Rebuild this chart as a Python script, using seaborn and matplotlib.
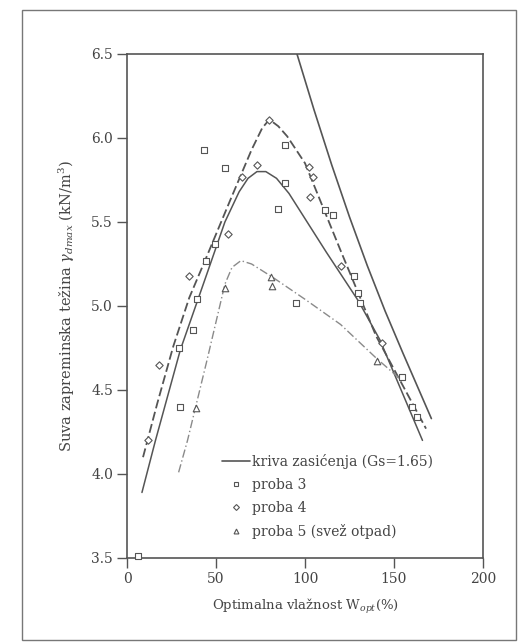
import numpy as np
import pandas as pd
import matplotlib
matplotlib.use("Agg")
import matplotlib.pyplot as plt
import seaborn as sns
from matplotlib.lines import Line2D
from matplotlib.patches import Rectangle

# ---- data ----
sat_w = [95.5, 105, 115, 125, 135, 145, 155, 171]
sat_g = [6.50, 6.17, 5.84, 5.53, 5.24, 4.97, 4.72, 4.33]

p3_fit_w = [8.4, 16, 30, 45.5, 55, 63, 68, 73, 78, 84, 91, 100, 112, 130, 142, 166]
p3_fit_g = [3.89, 4.20, 4.74, 5.21, 5.50, 5.68, 5.76, 5.80, 5.80, 5.76, 5.67, 5.52, 5.32, 5.03, 4.80, 4.20]

p4_fit_w = [9, 17, 26, 35, 45, 58, 70, 76, 80, 85, 90, 100, 120, 140, 168]
p4_fit_g = [4.10, 4.42, 4.76, 5.05, 5.30, 5.63, 5.93, 6.06, 6.11, 6.07, 6.01, 5.85, 5.33, 4.82, 4.27]

p5_fit_w = [29, 34, 45, 55, 59, 64, 70, 82, 100, 120, 140, 153]
p5_fit_g = [4.01, 4.20, 4.68, 5.13, 5.23, 5.27, 5.25, 5.17, 5.04, 4.89, 4.69, 4.57]

p3_w = [6, 30, 29, 37, 39.5, 44.5, 49.5, 43, 55, 85, 89, 89, 95, 111, 116, 127.5, 130, 131, 154.5, 160, 163]
p3_g = [3.51, 4.40, 4.75, 4.86, 5.04, 5.27, 5.37, 5.93, 5.82, 5.58, 5.96, 5.73, 5.02, 5.57, 5.54, 5.18, 5.08, 5.02, 4.58, 4.40, 4.34]

p4_w = [12, 18, 35, 57, 64.5, 73, 80, 102, 104.5, 103, 120, 143]
p4_g = [4.20, 4.65, 5.18, 5.43, 5.77, 5.84, 6.11, 5.83, 5.77, 5.65, 5.24, 4.78]

p5_w = [38.5, 55, 81, 81.5, 140.5]
p5_g = [4.39, 5.11, 5.17, 5.12, 4.67]

x_ticks = [0, 50, 100, 150, 200]
y_ticks = [3.5, 4.0, 4.5, 5.0, 5.5, 6.0, 6.5]

legend_labels = ["kriva zasićenja (Gs=1.65)", "proba 3", "proba 4", "proba 5 (svež otpad)"]

# ---- styling ----
sns.set_style("ticks")
plt.rcParams['font.family'] = ['DejaVu Serif']
plt.rcParams['mathtext.fontset'] = 'dejavuserif'

W, H = 519, 642
fig = plt.figure(figsize=(W / 100, H / 100), dpi=100)
ax = fig.add_axes([127 / W, 1 - 558 / H, (483 - 127) / W, (558 - 54) / H])

grey = "#555555"
light = "#8a8a8a"

def df(w, g):
    return pd.DataFrame({"w": w, "g": g})

sns.lineplot(data=df(sat_w, sat_g), x="w", y="g", ax=ax, color=grey, lw=1.2, sort=False)
sns.lineplot(data=df(p3_fit_w, p3_fit_g), x="w", y="g", ax=ax, color=grey, lw=1.1, sort=False)
sns.lineplot(data=df(p4_fit_w, p4_fit_g), x="w", y="g", ax=ax, color=grey, lw=1.3,
             linestyle=(0, (5, 2)), sort=False)
sns.lineplot(data=df(p5_fit_w, p5_fit_g), x="w", y="g", ax=ax, color=light, lw=1.0,
             linestyle=(0, (6, 2, 1, 2)), sort=False)

for w, g, m, s in [(p3_w, p3_g, "s", 22), (p4_w, p4_g, "D", 14), (p5_w, p5_g, "^", 22)]:
    sns.scatterplot(data=df(w, g), x="w", y="g", ax=ax, marker=m, s=s,
                    facecolor="white", edgecolor=grey, linewidth=0.8, zorder=3,
                    clip_on=False)

ax.set_xlim(0, 200)
ax.set_ylim(3.5, 6.5)
ax.set_xticks(x_ticks)
ax.set_yticks(y_ticks)
ax.set_yticklabels([f"{v:.1f}" for v in y_ticks])
ax.tick_params(axis="both", direction="out", length=7, width=1.0, colors=grey,
               labelsize=10, labelcolor="#444444", pad=3)
for s in ax.spines.values():
    s.set_color(grey)
    s.set_linewidth(1.2)

ax.set_xlabel("Optimalna vlažnost W$_{opt}$(%)", fontsize=9.5, color="#444444", labelpad=8)
ax.set_ylabel(r"Suva zapreminska težina $\gamma_{dmax}$ (kN/m$^3$)", fontsize=10.5,
              color="#444444", labelpad=10)

handles = [
    Line2D([], [], color=grey, lw=1.2),
    Line2D([], [], color=grey, marker="s", ls="none", ms=3.5, mfc="white", mew=0.8),
    Line2D([], [], color=grey, marker="D", ls="none", ms=3, mfc="white", mew=0.8),
    Line2D([], [], color=grey, marker="^", ls="none", ms=3.5, mfc="white", mew=0.8),
]
leg = ax.legend(handles, legend_labels, loc="center left",
                bbox_to_anchor=((222 - 127) / 356, (558 - 496.5) / 504),
                frameon=False, fontsize=10, handlelength=2.0, handletextpad=0.15,
                labelspacing=0.65, borderpad=0, borderaxespad=0)
for t in leg.get_texts():
    t.set_color("#444444")

# outer frame of the picture
fig.patches.append(Rectangle((22 / W, 1 - 640 / H), (516 - 22) / W, (640 - 10) / H,
                             transform=fig.transFigure, fill=False,
                             edgecolor="#777777", lw=1.0))

fig.savefig("out.png", dpi=100)
